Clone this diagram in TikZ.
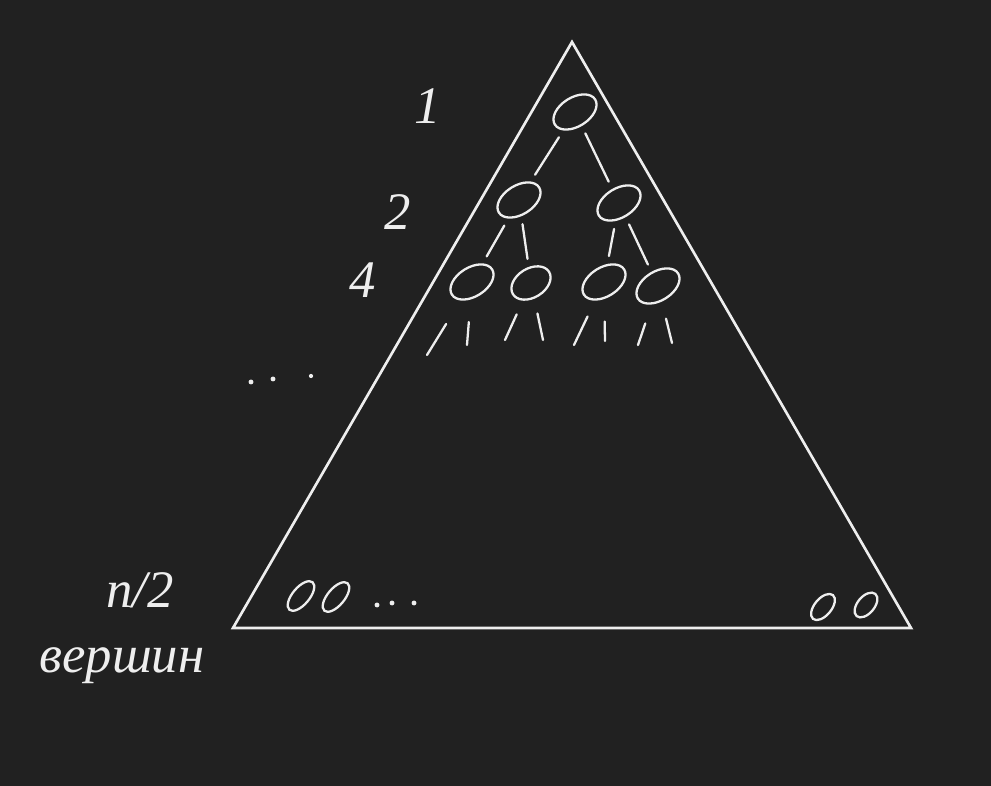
\documentclass[tikz,border=0pt]{standalone}
\usepackage{fontspec}
\setmainfont{Liberation Serif}
\usetikzlibrary{shapes.geometric}

\definecolor{board}{HTML}{212121}
\definecolor{chalk}{HTML}{EEEEEE}
\def\gap{0.16cm}

\begin{document}
\begin{tikzpicture}[x=0.02cm,y=-0.02cm,line width=1.5pt,draw=chalk,line cap=round]
    \tikzstyle{oval}=[ellipse,draw,line width=1.3pt,inner sep=0pt]
    \tikzstyle{vertex}=[oval,minimum width=0.95cm,minimum height=0.58cm,rotate=32]
    \tikzstyle{leaf}=[oval,minimum width=0.72cm,minimum height=0.34cm,rotate=50]
    \tikzstyle{stroke}=[line width=1.3pt,shorten <=\gap,shorten >=\gap]
    \tikzstyle{annot}=[text=chalk,font=\itshape\fontsize{30}{34}\selectfont,inner sep=0pt]

    % Background and frame of the picture
    \fill[board] (0,0) rectangle (991,786);
    \useasboundingbox (0,0) rectangle (991,786);

    % Draw the big triangle
    \coordinate (apex) at (572,42);
    \coordinate (bl) at (233,628);
    \coordinate (br) at (911,628);
    \draw (apex) -- (bl) -- (br) -- cycle;

    % Draw the root
    \node[vertex] (R) at (575,112) {};

    % Draw the second level
    \node[vertex] (A-1) at (519,200) {};
    \node[vertex] (A-2) at (619,203) {};

    % Draw the third level
    \node[vertex] (B-1) at (472,282) {};
    \node[vertex,minimum width=0.85cm] (B-2) at (531,283) {};
    \node[vertex] (B-3) at (604,282) {};
    \node[vertex] (B-4) at (658,286) {};

    % Connect the root with the second level
    \path (R) edge[stroke] (A-1);
    \path (R) edge[stroke] (A-2);

    % Connect the second level with the third level
    \path (A-1) edge[stroke] (B-1);
    \path (A-1) edge[stroke] (B-2);
    \path (A-2) edge[stroke] (B-3);
    \path (A-2) edge[stroke] (B-4);

    % Loose ends below the third level
    \coordinate (e-1) at (427,355);
    \coordinate (e-2) at (467,345);
    \coordinate (e-3) at (505,340);
    \coordinate (e-4) at (543,340);
    \coordinate (e-5) at (574,345);
    \coordinate (e-6) at (605,341);
    \coordinate (e-7) at (638,345);
    \coordinate (e-8) at (672,343);
    \draw[stroke,shorten >=0pt,shorten <=0.55cm] (B-1) -- (e-1);
    \draw[stroke,shorten >=0pt,shorten <=0.45cm] (B-1) -- (e-2);
    \draw[stroke,shorten >=0pt,shorten <=0.3cm] (B-2) -- (e-3);
    \draw[stroke,shorten >=0pt,shorten <=0.3cm] (B-2) -- (e-4);
    \draw[stroke,shorten >=0pt,shorten <=0.35cm] (B-3) -- (e-5);
    \draw[stroke,shorten >=0pt,shorten <=0.45cm] (B-3) -- (e-6);
    \draw[stroke,shorten >=0pt,shorten <=0.4cm] (B-4) -- (e-7);
    \draw[stroke,shorten >=0pt,shorten <=0.35cm] (B-4) -- (e-8);

    % Draw the leaves on the bottom
    \node[leaf] (L-1) at (301,596) {};
    \node[leaf] (L-2) at (336,597) {};
    \node[leaf,minimum width=0.62cm] (L-3) at (823,607) {};
    \node[leaf,minimum width=0.58cm] (L-4) at (866,605) {};

    % Dots
    \fill[chalk] (377,605) circle (1.4pt) (392,603) circle (1.4pt) (414,603) circle (1.4pt);
    \fill[chalk] (251,382) circle (1.4pt) (273,379) circle (1.4pt) (311,376) circle (1.2pt);

    % Annotate the levels
    \node[annot] (n1) at (428,106) {1};
    \node[annot] (n2) at (398,212) {2};
    \node[annot] (n4) at (363,280) {4};
    \node[annot] (nh) at (140,590) {n/2};
    \node[annot] (nv) at (122,666) {вершин};
\end{tikzpicture}
\end{document}
